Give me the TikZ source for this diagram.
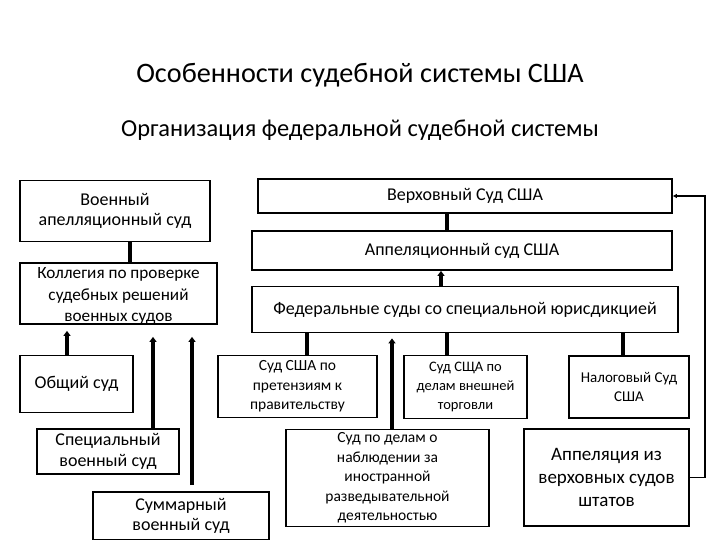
\documentclass[tikz,border=0pt]{standalone}
\usepackage{fontspec}
\setmainfont{Carlito}
\usetikzlibrary{arrows.meta}
\begin{document}
\begin{tikzpicture}[x=1pt,y=-1pt,
  box/.style={draw, line width=1.8pt, align=center, inner sep=0pt, font=\fontsize{18}{20.5}\selectfont},
  sbox/.style={box, font=\fontsize{15.5}{19.5}\selectfont},
  conn/.style={line width=3.5pt},
  arr/.style={conn, -{Triangle[length=5pt,width=7pt]}},
  thinarr/.style={line width=1.2pt, -{Triangle[length=4pt,width=4pt]}},
  ttl/.style={inner sep=0pt, font=\fontsize{28.2}{32}\selectfont},
  subttl/.style={inner sep=0pt, font=\fontsize{24.4}{28}\selectfont}]
\useasboundingbox (0,0) rectangle (720,540);
\fill[white] (0,0) rectangle (720,540);

\node[ttl] (t1) at (360,75) {Особенности судебной системы США};
\node[subttl] (t2) at (360,130) {Организация федеральной судебной системы};

\node[box, minimum width=190, minimum height=61] (voen) at (115,211) {Военный\\апелляционный суд};
\node[box, minimum width=414, minimum height=34] (verh) at (465,196) {Верховный Суд США};
\node[box, minimum width=420, minimum height=39] (apel) at (462,250.5) {Аппеляционный суд США};
\node[box, minimum width=197, minimum height=61] (koll) at (118.5,293.5) {};
\node[font=\fontsize{17.2}{21.5}\selectfont, align=center, inner sep=0pt] (kolltext) at (118.5,296) {Коллегия по проверке\\судебных решений\\военных судов};
\node[box, minimum width=426, minimum height=46] (fed) at (465,309.5) {Федеральные суды со специальной юрисдикцией};
\node[box, minimum width=113, minimum height=57] (obsh) at (76.5,384) {Общий суд};
\node[sbox, minimum width=159, minimum height=62] (pret) at (297.5,386.5) {Суд США по\\претензиям к\\правительству};
\node[sbox, minimum width=123, minimum height=63, font=\fontsize{14.5}{19}\selectfont] (torg) at (465.5,387) {Суд СЩА по\\делам внешней\\торговли};
\node[sbox, minimum width=120, minimum height=62, font=\fontsize{15}{19.5}\selectfont] (nalog) at (629,387) {Налоговый Суд\\США};
\node[box, minimum width=142, minimum height=45] (spec) at (108,451.5) {Специальный\\военный суд};
\node[sbox, minimum width=203, minimum height=97, font=\fontsize{15.5}{19.5}\selectfont] (razv) at (387.5,478) {Суд по делам о\\наблюдении за\\иностранной\\разведывательной\\деятельностью};
\node[box, minimum width=165, minimum height=97, font=\fontsize{19}{23}\selectfont] (shtat) at (606.5,477.5) {Аппеляция из\\верховных судов\\штатов};
\node[box, minimum width=176, minimum height=48] (summ) at (181,516) {Суммарный\\военный суд};

\coordinate (rb) at (705,477.5);
\coordinate (rt) at (705,196);

\draw[conn] (130,0 |- voen.south) -- (130,0 |- koll.north);
\draw[conn] (447,0 |- verh.south) -- (447,0 |- apel.north);
\draw[arr] (441,0 |- fed.north) -- (441,0 |- apel.south);
\draw[arr, shorten >=6pt] (67,0 |- obsh.north) -- (67,0 |- koll.south);
\draw[arr, shorten >=12pt] (153,0 |- spec.north) -- (153,0 |- koll.south);
\draw[arr, shorten >=12pt, shorten <=6pt] (192,0 |- summ.north) -- (192,0 |- koll.south);
\draw[conn] (307,0 |- pret.north) -- (307,0 |- fed.south);
\draw[conn] (447,0 |- torg.north) -- (447,0 |- fed.south);
\draw[conn] (623,0 |- nalog.north) -- (623,0 |- fed.south);
\draw[arr, shorten >=5pt] (392,0 |- razv.north) -- (392,0 |- fed.south);
\draw[thinarr] (shtat.east) -- (rb) -- (rt) -- (verh.east);
\end{tikzpicture}
\end{document}
